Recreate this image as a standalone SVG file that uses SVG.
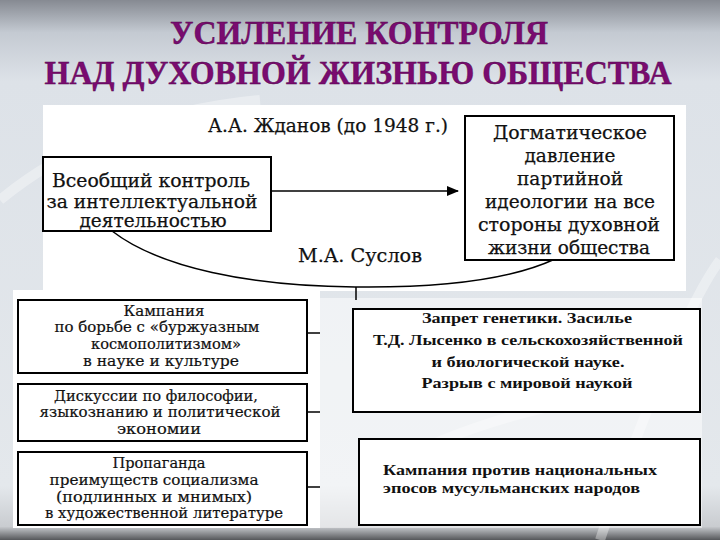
<svg xmlns="http://www.w3.org/2000/svg" width="720" height="540" viewBox="0 0 720 540">
<defs>
<linearGradient id="bg" x1="0" y1="0" x2="0" y2="1">
<stop offset="0" stop-color="#868a92"/>
<stop offset="0.06" stop-color="#c4cad2"/>
<stop offset="0.15" stop-color="#dde2e8"/>
<stop offset="0.9" stop-color="#e4e8ec"/>
<stop offset="0.975" stop-color="#c9ccd0"/>
<stop offset="1" stop-color="#55575a"/>
</linearGradient>
<marker id="arr" viewBox="0 0 12 10" refX="11" refY="5" markerWidth="12" markerHeight="10" markerUnits="userSpaceOnUse" orient="auto">
<path d="M0,0 L12,5 L0,10 z" fill="#000"/>
</marker>
<style>
.title{font-family:"Liberation Serif","Times New Roman",serif;font-weight:bold;font-size:34px;fill:#7a0b70;stroke:#4a0644;stroke-width:0.4;text-anchor:middle}
.box{fill:#fff;stroke:#000;stroke-width:2}
.t1{font-family:"DejaVu Serif","Liberation Serif",serif;font-size:18px;fill:#111;stroke:#111;stroke-width:0.25;text-anchor:middle}
.t2{font-family:"DejaVu Serif","Liberation Serif",serif;font-size:14.5px;fill:#111;stroke:#111;stroke-width:0.2;text-anchor:middle}
.t3{font-family:"Liberation Serif","Times New Roman",serif;font-weight:bold;font-size:15px;fill:#111;text-anchor:middle}
.t4{font-family:"Liberation Serif","Times New Roman",serif;font-weight:bold;font-size:15px;fill:#111}
.ln{fill:none;stroke:#000;stroke-width:1.5}
</style>
</defs>
<rect width="720" height="540" fill="url(#bg)"/>
<g opacity="0.35" fill="none" stroke="#fff" stroke-width="10">
<path d="M0,200 C60,150 150,110 260,100"/>
<path d="M600,540 C640,420 690,300 720,260"/>
<path d="M380,470 C470,420 560,400 700,380"/>
</g>
<g id="title">
<text class="title" x="359" y="44" textLength="378" lengthAdjust="spacingAndGlyphs">УСИЛЕНИЕ КОНТРОЛЯ</text>
<text class="title" x="358" y="84" textLength="627" lengthAdjust="spacingAndGlyphs">НАД ДУХОВНОЙ ЖИЗНЬЮ ОБЩЕСТВА</text>
</g>
<g id="panels">
<rect x="43" y="105" width="643" height="186" fill="#fff"/>
<rect x="13" y="290" width="307" height="238" fill="#fff"/>
<rect x="320" y="298" width="382" height="230" fill="#fff" opacity="0.5"/>
</g>
<g id="connectors">
<line class="ln" x1="271" y1="191" x2="458" y2="191" marker-end="url(#arr)"/>
<path class="ln" d="M112,231 C160,268 250,286 355,287 C440,288 510,280 555,259"/>
<line class="ln" x1="356" y1="287" x2="356" y2="300"/>
<line class="ln" x1="307" y1="333" x2="320" y2="333"/>
<line class="ln" x1="307" y1="412" x2="320" y2="412"/>
<line class="ln" x1="307" y1="487" x2="320" y2="487"/>
</g>
<g id="label-zhdanov">
<text class="t1" x="328" y="132" textLength="240" lengthAdjust="spacingAndGlyphs">А.А. Жданов (до 1948 г.)</text>
</g>
<g id="label-suslov">
<text class="t1" x="360" y="262" textLength="124" lengthAdjust="spacingAndGlyphs">М.А. Суслов</text>
</g>
<g id="node-control">
<rect class="box" x="43" y="157" width="228" height="74"/>
<text class="t1" x="151" y="187" textLength="198" lengthAdjust="spacingAndGlyphs">Всеобщий контроль</text>
<text class="t1" x="152" y="208" textLength="211" lengthAdjust="spacingAndGlyphs">за интеллектуальной</text>
<text class="t1" x="153" y="227" textLength="147" lengthAdjust="spacingAndGlyphs">деятельностью</text>
</g>
<g id="node-dogma">
<rect class="box" x="465" y="116" width="209" height="144"/>
<text class="t1" x="570" y="139" textLength="154" lengthAdjust="spacingAndGlyphs">Догматическое</text>
<text class="t1" x="570" y="162" textLength="91" lengthAdjust="spacingAndGlyphs">давление</text>
<text class="t1" x="570" y="185" textLength="106" lengthAdjust="spacingAndGlyphs">партийной</text>
<text class="t1" x="570" y="208" textLength="170" lengthAdjust="spacingAndGlyphs">идеологии на все</text>
<text class="t1" x="569" y="231" textLength="182" lengthAdjust="spacingAndGlyphs">стороны духовной</text>
<text class="t1" x="569" y="254" textLength="162" lengthAdjust="spacingAndGlyphs">жизни общества</text>
</g>
<g id="node-cosmo">
<rect class="box" x="18" y="300" width="289" height="73"/>
<text class="t2" x="164" y="316" textLength="81" lengthAdjust="spacingAndGlyphs">Кампания</text>
<text class="t2" x="157" y="332" textLength="205" lengthAdjust="spacingAndGlyphs">по борьбе с «буржуазным</text>
<text class="t2" x="166" y="349" textLength="150" lengthAdjust="spacingAndGlyphs">космополитизмом»</text>
<text class="t2" x="161" y="366" textLength="156" lengthAdjust="spacingAndGlyphs">в науке и культуре</text>
</g>
<g id="node-discuss">
<rect class="box" x="18" y="384" width="289" height="57"/>
<text class="t2" x="156" y="401" textLength="204" lengthAdjust="spacingAndGlyphs">Дискуссии по философии,</text>
<text class="t2" x="160" y="417" textLength="241" lengthAdjust="spacingAndGlyphs">языкознанию и политической</text>
<text class="t2" x="159" y="434" textLength="84" lengthAdjust="spacingAndGlyphs">экономии</text>
</g>
<g id="node-propaganda">
<rect class="box" x="18" y="452" width="289" height="73"/>
<text class="t2" x="159" y="468" textLength="93" lengthAdjust="spacingAndGlyphs">Пропаганда</text>
<text class="t2" x="154" y="485" textLength="209" lengthAdjust="spacingAndGlyphs">преимуществ социализма</text>
<text class="t2" x="154" y="502" textLength="196" lengthAdjust="spacingAndGlyphs">(подлинных и мнимых)</text>
<text class="t2" x="164" y="518" textLength="238" lengthAdjust="spacingAndGlyphs">в художественной литературе</text>
</g>
<g id="node-genetics">
<rect class="box" x="353" y="309" width="347" height="103"/>
<text class="t3" x="527" y="323" textLength="210" lengthAdjust="spacingAndGlyphs">Запрет генетики. Засилье</text>
<text class="t3" x="528" y="345" textLength="310" lengthAdjust="spacingAndGlyphs">Т.Д. Лысенко в сельскохозяйственной</text>
<text class="t3" x="528" y="367" textLength="193" lengthAdjust="spacingAndGlyphs">и биологической науке.</text>
<text class="t3" x="527" y="388" textLength="211" lengthAdjust="spacingAndGlyphs">Разрыв с мировой наукой</text>
</g>
<g id="node-epos">
<rect class="box" x="359" y="439" width="341" height="86"/>
<text class="t4" x="383" y="475" textLength="274" lengthAdjust="spacingAndGlyphs">Кампания против национальных</text>
<text class="t4" x="383" y="493" textLength="257" lengthAdjust="spacingAndGlyphs">эпосов мусульманских народов</text>
</g>
</svg>
